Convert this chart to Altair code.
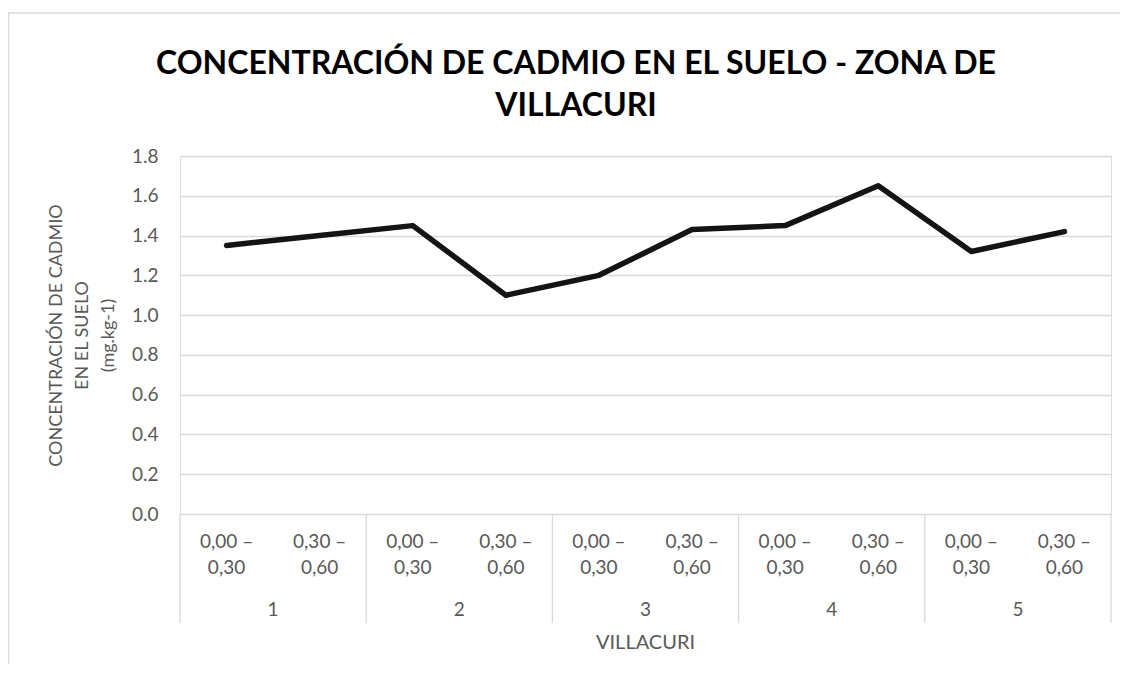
import altair as alt
import pandas as pd

# ---- data ----
grupos = ["1", "2", "3", "4", "5"]
profundidad_linea1 = ["0,00 –", "0,30 –"]
profundidad_linea2 = ["0,30", "0,60"]
cadmio = [1.35, 1.40, 1.45, 1.10, 1.20, 1.43, 1.45, 1.65, 1.32, 1.42]
y_ticks = [0.0, 0.2, 0.4, 0.6, 0.8, 1.0, 1.2, 1.4, 1.6, 1.8]

titulo = ["CONCENTRACIÓN DE CADMIO EN EL SUELO - ZONA DE", "VILLACURI"]
titulo_y = ["CONCENTRACIÓN DE CADMIO", "EN EL SUELO", "(mg.kg-1)"]
titulo_x = "VILLACURI"

W, H = 931, 358
FONT = "Lato"
GRAY = "#595959"
GRID = "#d9d9d9"

rows = []
for i, v in enumerate(cadmio):
    rows.append({
        "pos": i + 0.5,
        "valor": v,
        "grupo": grupos[i // 2],
        "l1": profundidad_linea1[i % 2],
        "l2": profundidad_linea2[i % 2],
    })
df = pd.DataFrame(rows)

df_grupos = pd.DataFrame({"pos": [2 * g + 1 for g in range(len(grupos))], "grupo": grupos})
df_sep = pd.DataFrame({"pos": [2 * g for g in range(len(grupos) + 1)]})
df_xt = pd.DataFrame({"pos": [len(cadmio) / 2], "t": [titulo_x]})
df_tit = pd.DataFrame({"t": titulo, "yy": [-92, -50]})

xscale = alt.Scale(domain=[0, len(cadmio)], nice=False, zero=False)
x_noaxis = alt.X("pos:Q", scale=xscale, axis=None)

line = alt.Chart(df).mark_line(color="#141414", strokeWidth=5.5, strokeJoin="round", strokeCap="round").encode(
    x=x_noaxis,
    y=alt.Y(
        "valor:Q",
        scale=alt.Scale(domain=[0, 1.8], nice=False),
        axis=alt.Axis(
            values=y_ticks, format=".1f", ticks=False, domain=False,
            grid=True, gridColor=GRID, gridWidth=1.3,
            labelFont=FONT, labelFontSize=19, labelColor=GRAY, labelPadding=22,
            title=titulo_y, titleFont=FONT, titleFontSize=18, titleFontWeight="normal",
            titleColor=GRAY, titleAngle=270, titleX=-124, titleY=H / 2,
            titleAlign="center", titleBaseline="middle", titleLineHeight=26,
        ),
    ),
)

lab1 = alt.Chart(df).mark_text(font=FONT, fontSize=19, color=GRAY, baseline="middle").encode(
    x=x_noaxis, y=alt.value(386), text="l1:N")
lab2 = alt.Chart(df).mark_text(font=FONT, fontSize=19, color=GRAY, baseline="middle").encode(
    x=x_noaxis, y=alt.value(412), text="l2:N")
labg = alt.Chart(df_grupos).mark_text(font=FONT, fontSize=19, color=GRAY, baseline="middle").encode(
    x=x_noaxis, y=alt.value(454), text="grupo:N")
labt = alt.Chart(df_xt).mark_text(font=FONT, fontSize=20, color=GRAY, baseline="middle").encode(
    x=x_noaxis, y=alt.value(487), text="t:N")
seps = alt.Chart(df_sep).mark_rule(color=GRID, strokeWidth=1.3).encode(
    x=x_noaxis, y=alt.value(H), y2=alt.value(467))

tit = alt.Chart(df_tit).mark_text(font=FONT, fontSize=32, fontWeight="bold", color="black",
                                  baseline="middle", align="center").encode(
    x=alt.value(396), y=alt.Y("yy:Q", scale=None), text="t:N")

# outer chart frame (only its left and top edges fall inside the picture)
frame = alt.Chart(df_xt).mark_rect(fill="white", fillOpacity=0, stroke=GRID, strokeWidth=1.5).encode(
    x=alt.value(-171.5), x2=alt.value(1000), y=alt.value(-143), y2=alt.value(600))

chart = alt.layer(frame, seps, line, lab1, lab2, labg, labt, tit).properties(
    width=W, height=H,
    autosize=alt.AutoSizeParams(type="none"),
    padding={"left": 172, "top": 148, "right": 9, "bottom": 150},
).configure_view(stroke=None).configure(background="white")

chart.save("out.html", embed_options={"renderer": "svg", "actions": False})
